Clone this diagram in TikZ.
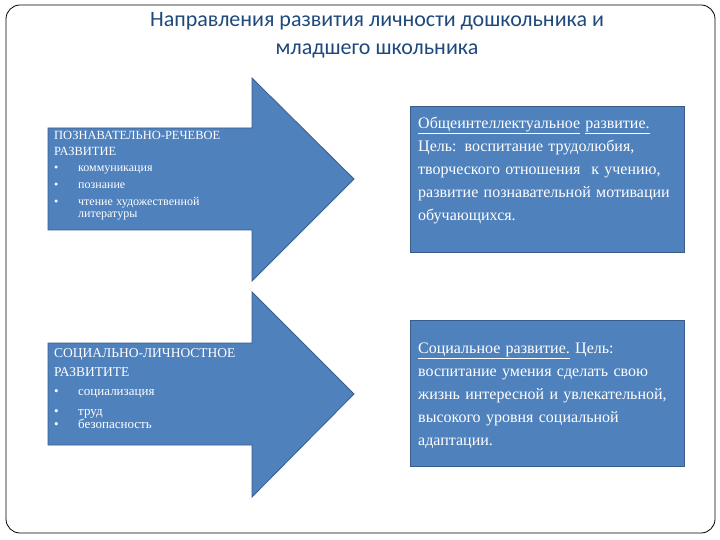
\documentclass[tikz,border=0pt]{standalone}
\usepackage{fontspec}
\setmainfont{Liberation Serif}
\newfontfamily\titlefont{Carlito}
\begin{document}
\begin{tikzpicture}[x=1pt,y=-1pt,
  arr/.style={fill=blue!45!cyan!40!black!0, fill={rgb,255:red,79;green,129;blue,189}, draw={rgb,255:red,56;green,93;blue,138}, line width=0.8pt},
  boxx/.style={fill={rgb,255:red,79;green,129;blue,189}, draw={rgb,255:red,56;green,93;blue,138}, line width=0.8pt},
  bt/.style={text=white, font=\fontsize{16}{23}\selectfont, align=left, anchor=north west, inner sep=0pt, text width=262pt},
  lt/.style={text=white, align=left, anchor=north west, inner sep=0pt, text width=210pt}]
\useasboundingbox (0,0) rectangle (720,540);
\fill[white] (0,0) rectangle (720,540);
\draw[rounded corners=14pt, line width=0.8pt] (6,5) rectangle (715,533);
\node[font=\titlefont\fontsize{22}{28}\selectfont, text={rgb,255:red,31;green,73;blue,125}, align=center] (title) at (377,35) {Направления развития личности дошкольника и\\младшего школьника};
\draw[arr] (48,128) -- (252,128) -- (252,78) -- (354,179) -- (252,281) -- (252,230) -- (48,230) -- cycle;
\draw[arr] (48,343) -- (252,343) -- (252,292) -- (354,394) -- (252,497) -- (252,445) -- (48,445) -- cycle;
\node[lt] (t1) at (54,131) {\fontsize{12.5}{16}\selectfont ПОЗНАВАТЕЛЬНО-РЕЧЕВОЕ\\РАЗВИТИЕ\\[-1pt]
\fontsize{12}{17}\selectfont
\makebox[24pt][l]{•}коммуникация\\
\makebox[24pt][l]{•}познание\\
\makebox[24pt][l]{•}чтение художественной\\
\hspace*{24pt}литературы};
\node[lt] (t2) at (54,348) {\fontsize{13.5}{19}\selectfont СОЦИАЛЬНО-ЛИЧНОСТНОЕ\\РАЗВИТИТЕ\\
\fontsize{13}{19.5}\selectfont
\makebox[24pt][l]{•}социализация\\
\makebox[24pt][l]{•}труд\\
\makebox[24pt][l]{•}безопасность};
\draw[boxx] (410,106) rectangle (684,252);
\draw[boxx] (410,320) rectangle (684,466);
\node[bt] (b1) at (418,117) {\underline{Общеинтеллектуальное} \underline{развитие.} Цель: воспитание трудолюбия, творческого отношения\ \ к учению, развитие познавательной мотивации обучающихся.};
\node[bt] (b2) at (418,343) {\underline{Социальное развитие.} Цель: воспитание умения сделать свою\ \ жизнь интересной и увлекательной, высокого уровня социальной адаптации.};
\end{tikzpicture}
\end{document}
